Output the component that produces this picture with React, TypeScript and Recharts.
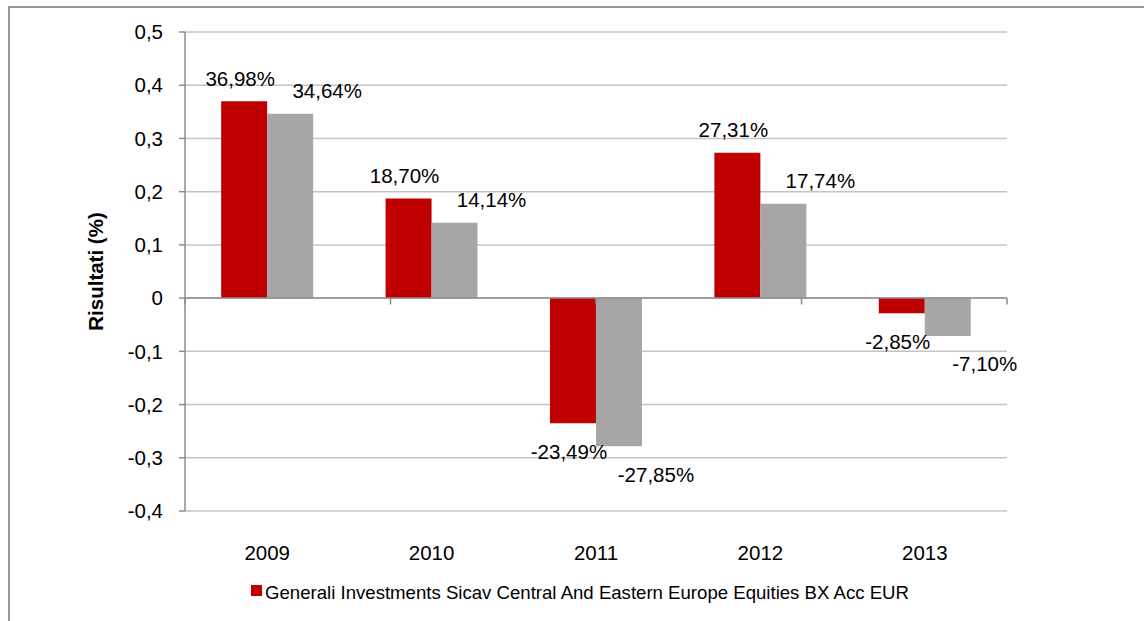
import React from 'react';
import { BarChart, Bar, XAxis, YAxis, CartesianGrid, ReferenceLine, LabelList, Legend } from 'recharts';

const years = ['2009', '2010', '2011', '2012', '2013'];
const fundValues = [0.3698, 0.187, -0.2349, 0.2731, -0.0285];
const benchValues = [0.3464, 0.1414, -0.2785, 0.1774, -0.071];
const yTicks = [-0.4, -0.3, -0.2, -0.1, 0, 0.1, 0.2, 0.3, 0.4, 0.5];
const boundaries = [0, 1, 2, 3, 4, 5];
const fundName = 'Generali Investments Sicav Central And Eastern Europe Equities BX Acc EUR';

const RED = '#C00000';
const GREY = '#A6A6A6';
const FONT = '"Liberation Sans", Arial, sans-serif';

const data = years.map((year, i) => ({ year, fund: fundValues[i], bench: benchValues[i] }));

const fmtTick = (v: number) => (v === 0 ? '0' : v.toFixed(1).replace('.', ','));
const fmtPct = (v: number) => (v * 100).toFixed(2).replace('.', ',') + '%';

function makeLabel(dx: number) {
    return (props: any) => {
        const { x, y, width, height, value } = props;
        const top = Math.min(y, y + height);
        const bottom = Math.max(y, y + height);
        const cy = value >= 0 ? top - 23 : bottom + 28;
        return (
            <text x={x + width / 2 + dx} y={cy} textAnchor="middle" dominantBaseline="central" fontSize={20.5} fontFamily={FONT} fill="#000">
                {fmtPct(value)}
            </text>
        );
    };
}

function LegendContent() {
    return (
        <div style={{ display: 'flex', alignItems: 'center', justifyContent: 'center', fontFamily: FONT, fontSize: 18.6, color: '#000' }}>
            <span style={{ width: 11, height: 11, background: RED, display: 'inline-block', marginRight: 3, marginTop: -6 }} />
            <span>{fundName}</span>
        </div>
    );
}

function AxisTitle(props: any) {
    const { viewBox } = props;
    const cx = viewBox.x + 85;
    const cy = viewBox.y + viewBox.height / 2;
    return (
        <text x={cx} y={cy} transform={`rotate(-90 ${cx} ${cy})`} textAnchor="middle" dominantBaseline="central" fontSize={20.5} fontWeight="bold" fontFamily={FONT} fill="#000">
            Risultati (%)
        </text>
    );
}

export default function App() {
    return (
        <div style={{ position: 'absolute', left: 8, top: 6, width: 1136, height: 615, boxSizing: 'border-box', borderLeft: '2px solid #9a9a9a', borderTop: '2px solid #9a9a9a' }}>
            <BarChart width={1134} height={611} data={data} margin={{ top: 24, right: 137, left: 0, bottom: 68 }} barCategoryGap="22%" barGap={0}>
                <CartesianGrid horizontal vertical={false} stroke="#c4c4c4" strokeWidth={1.5} />
                <XAxis xAxisId="cat" dataKey="year" axisLine={false} tickLine={false} height={40} tick={{ fontSize: 20.5, fontFamily: FONT, fill: '#000', dy: 26 }} interval={0} />
                <XAxis xAxisId="num" type="number" domain={[0, 5]} hide />
                <YAxis
                    domain={[-0.4, 0.5]}
                    ticks={yTicks}
                    tickFormatter={fmtTick}
                    width={175}
                    stroke="#8c8c8c"
                    strokeWidth={1.5}
                    tickSize={6}
                    tickMargin={16}
                    tick={{ fontSize: 20.5, fontFamily: FONT, fill: '#000' }}
                    label={<AxisTitle />}
                />
                <ReferenceLine y={0} xAxisId="cat" stroke="#8c8c8c" strokeWidth={1.5} />
                {boundaries.map((b) => (
                    <ReferenceLine key={b} xAxisId="num" segment={[{ x: b, y: 0 }, { x: b, y: -0.012 }]} stroke="#8c8c8c" strokeWidth={1.5} />
                ))}
                <Bar xAxisId="cat" dataKey="fund" fill={RED} isAnimationActive={false}>
                    <LabelList dataKey="fund" content={makeLabel(-4)} />
                </Bar>
                <Bar xAxisId="cat" dataKey="bench" fill={GREY} isAnimationActive={false} legendType="none">
                    <LabelList dataKey="bench" content={makeLabel(37)} />
                </Bar>
                <Legend layout="horizontal" verticalAlign="middle" align="center" content={<LegendContent />} wrapperStyle={{ top: 574, left: 65, width: 1010 }} />
            </BarChart>
        </div>
    );
}
